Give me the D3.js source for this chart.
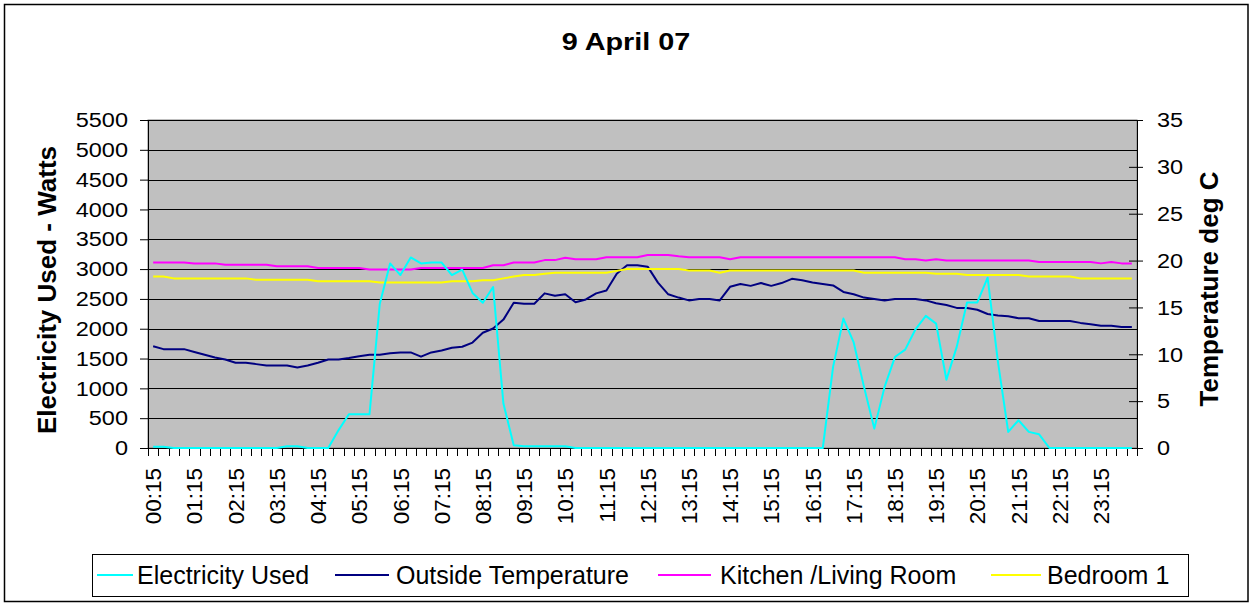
<!DOCTYPE html>
<html>
<head>
<meta charset="utf-8">
<script src="https://cdn.jsdelivr.net/npm/d3@7"></script>
<style>
  body { margin: 0; background: #fff; }
  text { font-family: "Liberation Sans", Arial, sans-serif; }
</style>
</head>
<body>
<div id="chart"></div>
<script>
//hourly labels shown under the axis
var tickLabels = ["00:15","01:15","02:15","03:15","04:15","05:15","06:15","07:15","08:15","09:15","10:15","11:15",
                  "12:15","13:15","14:15","15:15","16:15","17:15","18:15","19:15","20:15","21:15","22:15","23:15"];

//quarter hour categories, 00:15 .. 24:00
var categories = [];
for (var h = 0; h < 24; h++) {
    ["15","30","45"].forEach(function(m){ categories.push((h<10?'0':'')+h+':'+m); });
    categories.push(((h+1)<10?'0':'')+(h+1)+':00');
}

//electricity used, watts
var electricity = [20,20,0,0,0,0,0,0,0,0,0,0,0,30,30,0,0,0,300,565,565,565,2420,3095,
                   2900,3195,3095,3110,3110,2900,2990,2600,2435,2700,745,45,30,30,30,30,30,0,0,0,0,0,0,0,
                   0,0,0,0,0,0,0,0,0,0,0,0,0,0,0,0,0,0,1360,2170,1770,1025,325,1025,
                   1525,1650,1990,2215,2085,1145,1695,2440,2440,2855,1450,270,465,270,230,0,0,0,0,0,0,0,0,0];

//outside temperature, deg C
var outside = [10.85,10.55,10.55,10.55,10.25,9.95,9.65,9.45,9.1,9.1,8.95,8.8,8.8,8.8,8.6,8.8,9.1,9.45,9.45,9.6,9.8,9.95,9.95,10.1,
               10.2,10.2,9.75,10.2,10.4,10.7,10.8,11.25,12.3,12.75,13.7,15.5,15.4,15.4,16.5,16.25,16.4,15.55,15.85,16.5,16.8,18.6,19.5,19.5,
               19.35,17.65,16.4,16.05,15.75,15.9,15.9,15.75,17.2,17.5,17.3,17.6,17.3,17.6,18.05,17.9,17.65,17.5,17.35,16.65,16.4,16.05,15.9,15.75,
               15.9,15.9,15.9,15.75,15.45,15.25,14.95,14.95,14.75,14.3,14.15,14.05,13.85,13.85,13.55,13.55,13.55,13.55,13.35,13.2,13.05,13.05,12.9,12.9];

//kitchen / living room, deg C
var kitchen = [19.8,19.8,19.8,19.8,19.7,19.7,19.7,19.55,19.55,19.55,19.55,19.55,19.4,19.4,19.4,19.4,19.2,19.2,19.2,19.2,19.2,19.05,19.05,19.05,
               19.05,19.05,19.2,19.2,19.2,19.2,19.2,19.2,19.2,19.5,19.5,19.8,19.8,19.8,20.05,20.05,20.3,20.15,20.15,20.15,20.35,20.35,20.35,20.35,
               20.6,20.6,20.6,20.45,20.35,20.35,20.35,20.35,20.15,20.35,20.35,20.35,20.35,20.35,20.35,20.35,20.35,20.35,20.35,20.35,20.35,20.35,20.35,20.35,
               20.35,20.15,20.15,20.0,20.15,20.0,20.0,20.0,20.0,20.0,20.0,20.0,20.0,20.0,19.85,19.85,19.85,19.85,19.85,19.85,19.7,19.85,19.7,19.7];

//bedroom 1, deg C
var bedroom = [18.3,18.3,18.1,18.1,18.1,18.1,18.1,18.1,18.1,18.1,17.95,17.95,17.95,17.95,17.95,17.95,17.8,17.8,17.8,17.8,17.8,17.8,17.65,17.65,
               17.65,17.65,17.65,17.65,17.65,17.8,17.8,17.8,17.9,17.9,18.1,18.3,18.45,18.45,18.6,18.7,18.7,18.7,18.7,18.7,18.7,18.9,19.1,19.1,
               19.1,19.1,19.1,19.1,18.95,18.95,18.95,18.7,18.95,18.95,18.95,18.95,18.95,18.95,18.95,18.95,18.95,18.95,18.95,18.95,18.95,18.7,18.7,18.7,
               18.7,18.7,18.7,18.7,18.6,18.6,18.6,18.45,18.45,18.45,18.45,18.45,18.45,18.3,18.3,18.3,18.3,18.3,18.1,18.1,18.1,18.1,18.1,18.1];

var seriesNames = ["Electricity Used","Outside Temperature","Kitchen /Living Room","Bedroom 1"];
var seriesColors = ["#00FFFF","#000080","#FF00FF","#FFFF00"];

var W = 1253, H = 604;
var plot = {left: 148, right: 1137, top: 120, bottom: 448};

var svg = d3.select("#chart").append("svg")
    .attr("width", W).attr("height", H);

//outer chart border
svg.append("rect")
    .attr("x", 4.5).attr("y", 4.5).attr("width", 1243.5).attr("height", 597)
    .attr("fill", "#fff").attr("stroke", "#000").attr("stroke-width", 1.5);

//scales
var x = d3.scaleBand().domain(categories).range([plot.left, plot.right]).padding(0);
var xEdge = d3.scaleLinear().domain([0, categories.length]).range([plot.left, plot.right]);
var yLeft = d3.scaleLinear().domain([0, 5500]).range([plot.bottom, plot.top]);
var yRight = d3.scaleLinear().domain([0, 35]).range([plot.bottom, plot.top]);

//grey plot area
svg.append("rect")
    .attr("x", plot.left).attr("y", plot.top)
    .attr("width", plot.right - plot.left).attr("height", plot.bottom - plot.top)
    .attr("fill", "#C0C0C0").attr("stroke", "#808080").attr("stroke-width", 1);

//gridlines
var leftTicks = d3.range(0, 5501, 500);
svg.append("g")
    .selectAll("line")
    .data(leftTicks)
    .enter().append("line")
    .attr("x1", plot.left).attr("x2", plot.right)
    .attr("y1", function(d){ return Math.round(yLeft(d)) + 0.5; })
    .attr("y2", function(d){ return Math.round(yLeft(d)) + 0.5; })
    .attr("stroke", "#000").attr("stroke-width", 1);

//left axis
var gLeft = svg.append("g")
    .attr("transform", "translate(" + plot.left + ",0)")
    .call(d3.axisLeft(yLeft).tickValues(leftTicks).tickSize(8).tickPadding(0).tickFormat(d3.format("d")));
gLeft.select(".domain").attr("stroke", "#000");
gLeft.selectAll("line").attr("stroke", "#000");
gLeft.selectAll("text")
    .attr("x", -20 / 1.12)
    .attr("transform", "scale(1.12,1)")
    .style("font-size", "21px").attr("fill", "#000");

//right axis
var gRight = svg.append("g")
    .attr("transform", "translate(" + plot.right + ",0)")
    .call(d3.axisRight(yRight).tickValues(d3.range(0, 36, 5)).tickSize(6).tickPadding(0));
gRight.select(".domain").attr("stroke", "#000");
gRight.selectAll("line").attr("x1", -8).attr("stroke", "#000");
gRight.selectAll("text")
    .attr("x", 20 / 1.12)
    .attr("transform", "scale(1.12,1)")
    .style("font-size", "21px").attr("fill", "#000");

//category axis: ticks between categories
svg.append("g")
    .selectAll("line")
    .data(d3.range(0, categories.length + 1))
    .enter().append("line")
    .attr("x1", function(d){ return Math.round(xEdge(d)) + 0.5; })
    .attr("x2", function(d){ return Math.round(xEdge(d)) + 0.5; })
    .attr("y1", plot.bottom).attr("y2", plot.bottom + 8)
    .attr("stroke", "#000");
svg.append("line")
    .attr("x1", plot.left - 8).attr("x2", plot.right)
    .attr("y1", plot.bottom + 0.5).attr("y2", plot.bottom + 0.5)
    .attr("stroke", "#000");

//rotated hour labels
svg.append("g")
    .selectAll("text")
    .data(tickLabels)
    .enter().append("text")
    .attr("transform", function(d){
        return "translate(" + (x(d) + x.bandwidth() / 2) + "," + (plot.bottom + 20) + ") rotate(-90)";
    })
    .attr("text-anchor", "end")
    .attr("dy", "0.36em")
    .style("font-size", "22.5px")
    .text(function(d){ return d; });

//lines
var lineLeft = d3.line()
    .x(function(d, i){ return x(categories[i]) + x.bandwidth() / 2; })
    .y(function(d){ return yLeft(d); });
var lineRight = d3.line()
    .x(function(d, i){ return x(categories[i]) + x.bandwidth() / 2; })
    .y(function(d){ return yRight(d); });

var plotted = [
    {values: outside, line: lineRight, color: seriesColors[1]},
    {values: kitchen, line: lineRight, color: seriesColors[2]},
    {values: bedroom, line: lineRight, color: seriesColors[3]},
    {values: electricity, line: lineLeft, color: seriesColors[0]}
];
plotted.forEach(function(s){
    svg.append("path")
        .attr("d", s.line(s.values))
        .attr("fill", "none")
        .attr("stroke", s.color)
        .attr("stroke-width", 2)
        .attr("stroke-linejoin", "round");
});

//title
svg.append("text")
    .attr("transform", "translate(626,50) scale(1.2,1)")
    .attr("text-anchor", "middle")
    .style("font-size", "24px").style("font-weight", "bold")
    .text("9 April 07");

//axis titles
svg.append("text")
    .attr("transform", "translate(47,290) rotate(-90)")
    .attr("text-anchor", "middle").attr("dy", "0.36em")
    .style("font-size", "26px").style("font-weight", "bold")
    .text("Electricity Used - Watts");
svg.append("text")
    .attr("transform", "translate(1209,289) rotate(-90)")
    .attr("text-anchor", "middle").attr("dy", "0.36em")
    .style("font-size", "26px").style("font-weight", "bold")
    .text("Temperature deg C");

//legend
svg.append("rect")
    .attr("x", 92.5).attr("y", 554.5).attr("width", 1096).attr("height", 42)
    .attr("fill", "#fff").attr("stroke", "#000").attr("stroke-width", 1);
var legendPos = [{x1: 97, x2: 133, tx: 137}, {x1: 335, x2: 389, tx: 396},
                 {x1: 658, x2: 711, tx: 720}, {x1: 991, x2: 1041, tx: 1047}];
seriesNames.forEach(function(name, i){
    svg.append("line")
        .attr("x1", legendPos[i].x1).attr("x2", legendPos[i].x2)
        .attr("y1", 575).attr("y2", 575)
        .attr("stroke", seriesColors[i]).attr("stroke-width", 2);
    svg.append("text")
        .attr("x", legendPos[i].tx).attr("y", 584)
        .style("font-size", "25px")
        .text(name);
});
</script>
</body>
</html>
